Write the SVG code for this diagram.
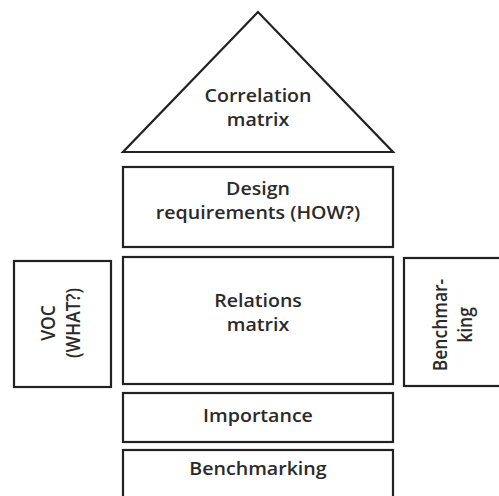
<svg xmlns="http://www.w3.org/2000/svg" width="499" height="496" viewBox="0 0 499 496">
  <style>
    .box { fill: #ffffff; stroke: #222222; stroke-width: 2.2; }
    .lbl { font-family: "Open Sans", "Liberation Sans", sans-serif; font-size: 17.5px; font-weight: 600; fill: #2a2a2a; text-anchor: middle; }
  </style>
  <rect width="499" height="496" fill="#ffffff"/>

  <g id="correlation-matrix">
    <polygon class="box" points="258,12 123,152 393,152"/>
    <text class="lbl" transform="translate(258,102) scale(1.12,1)">Correlation</text>
    <text class="lbl" transform="translate(258,126) scale(1.12,1)">matrix</text>
  </g>

  <g id="design-requirements">
    <rect class="box" x="123" y="167" width="270" height="80"/>
    <text class="lbl" transform="translate(258,195) scale(1.12,1)">Design</text>
    <text class="lbl" transform="translate(258,219) scale(1.12,1)">requirements (HOW?)</text>
  </g>

  <g id="relations-matrix">
    <rect class="box" x="123" y="257" width="270" height="127"/>
    <text class="lbl" transform="translate(258,307) scale(1.12,1)">Relations</text>
    <text class="lbl" transform="translate(258,331) scale(1.12,1)">matrix</text>
  </g>

  <g id="voc">
    <rect class="box" x="14" y="261" width="97" height="126"/>
    <text class="lbl" transform="translate(55,323) scale(1.12,1) rotate(-90)">VOC</text>
    <text class="lbl" transform="translate(80,323) scale(1.12,1) rotate(-90)">(WHAT?)</text>
  </g>

  <g id="benchmarking-side">
    <rect class="box" x="404" y="258" width="98" height="128"/>
    <text class="lbl" transform="translate(447,325) scale(1.12,1) rotate(-90)">Benchmar-</text>
    <text class="lbl" transform="translate(472,325) scale(1.12,1) rotate(-90)">king</text>
  </g>

  <g id="importance">
    <rect class="box" x="123" y="393" width="270" height="49"/>
    <text class="lbl" transform="translate(258,422) scale(1.12,1)">Importance</text>
  </g>

  <g id="benchmarking">
    <rect class="box" x="123" y="450" width="270" height="50"/>
    <text class="lbl" transform="translate(258,475) scale(1.12,1)">Benchmarking</text>
  </g>

  <g id="connectors"/>
</svg>
